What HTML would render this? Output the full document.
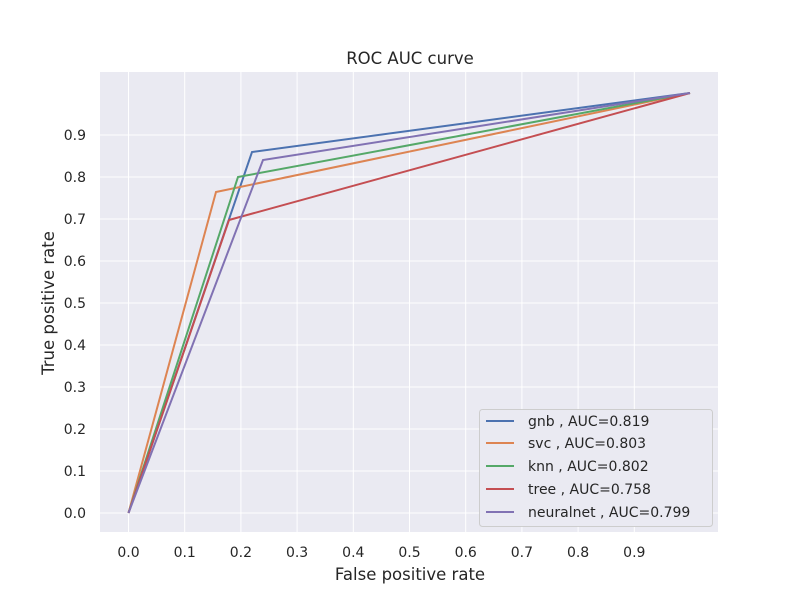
<!DOCTYPE html>
<html><head><meta charset="utf-8"><style>
body{margin:0;background:#fff}
svg text{font-family:"DejaVu Sans","Liberation Sans",sans-serif;fill:#262626}
</style></head><body>
<svg width="800" height="600" xmlns="http://www.w3.org/2000/svg">
<rect width="800" height="600" fill="#fff"/>
<rect x="100" y="72" width="618" height="460" fill="#eaeaf2"/>
<g stroke="#fff" stroke-width="1">
<line x1="128.5" y1="72" x2="128.5" y2="532"/><line x1="184.7" y1="72" x2="184.7" y2="532"/>
<line x1="240.9" y1="72" x2="240.9" y2="532"/><line x1="297.1" y1="72" x2="297.1" y2="532"/>
<line x1="353.3" y1="72" x2="353.3" y2="532"/><line x1="409.5" y1="72" x2="409.5" y2="532"/>
<line x1="465.7" y1="72" x2="465.7" y2="532"/><line x1="521.9" y1="72" x2="521.9" y2="532"/>
<line x1="578.1" y1="72" x2="578.1" y2="532"/><line x1="634.3" y1="72" x2="634.3" y2="532"/>
<line x1="100" y1="513" x2="718" y2="513"/><line x1="100" y1="471" x2="718" y2="471"/>
<line x1="100" y1="429" x2="718" y2="429"/><line x1="100" y1="387" x2="718" y2="387"/>
<line x1="100" y1="345" x2="718" y2="345"/><line x1="100" y1="303" x2="718" y2="303"/>
<line x1="100" y1="261" x2="718" y2="261"/><line x1="100" y1="219" x2="718" y2="219"/>
<line x1="100" y1="177" x2="718" y2="177"/><line x1="100" y1="135" x2="718" y2="135"/>
</g>
<g fill="none" stroke-width="2">
<polyline points="128.5,513 252,152 690,93" stroke="#4c72b0"/>
<polyline points="128.5,513 216,192 690,93" stroke="#dd8452"/>
<polyline points="128.5,513 238,177 690,93" stroke="#55a868"/>
<polyline points="128.5,513 229,220 690,93" stroke="#c44e52"/>
<polyline points="128.5,513 263,160 690,93" stroke="#8172b3"/>
</g>
<g font-size="14" text-anchor="middle">
<text x="128.5" y="557">0.0</text><text x="184.7" y="557">0.1</text><text x="240.9" y="557">0.2</text>
<text x="297.1" y="557">0.3</text><text x="353.3" y="557">0.4</text><text x="409.5" y="557">0.5</text>
<text x="465.7" y="557">0.6</text><text x="521.9" y="557">0.7</text><text x="578.1" y="557">0.8</text>
<text x="634.3" y="557">0.9</text>
</g>
<g font-size="14" text-anchor="end">
<text x="86" y="518">0.0</text><text x="86" y="476">0.1</text><text x="86" y="434">0.2</text>
<text x="86" y="392">0.3</text><text x="86" y="350">0.4</text><text x="86" y="308">0.5</text>
<text x="86" y="266">0.6</text><text x="86" y="224">0.7</text><text x="86" y="182">0.8</text>
<text x="86" y="140">0.9</text>
</g>
<text x="410" y="580" font-size="16.5" text-anchor="middle">False positive rate</text>
<text x="54" y="303" font-size="16.5" text-anchor="middle" transform="rotate(-90 54 303)">True positive rate</text>
<text x="410" y="64" font-size="16.5" text-anchor="middle">ROC AUC curve</text>
<rect x="479.5" y="409.5" width="233" height="117" rx="3" fill="#eaeaf2" stroke="#ccc" opacity="0.95"/>
<g stroke-width="2">
<line x1="486" y1="421" x2="514" y2="421" stroke="#4c72b0"/>
<line x1="486" y1="443" x2="514" y2="443" stroke="#dd8452"/>
<line x1="486" y1="466" x2="514" y2="466" stroke="#55a868"/>
<line x1="486" y1="489" x2="514" y2="489" stroke="#c44e52"/>
<line x1="486" y1="512" x2="514" y2="512" stroke="#8172b3"/>
</g>
<g font-size="14">
<text x="528" y="426">gnb , AUC=0.819</text>
<text x="528" y="448">svc , AUC=0.803</text>
<text x="528" y="471">knn , AUC=0.802</text>
<text x="528" y="494">tree , AUC=0.758</text>
<text x="528" y="517">neuralnet , AUC=0.799</text>
</g>
</svg>
</body></html>
